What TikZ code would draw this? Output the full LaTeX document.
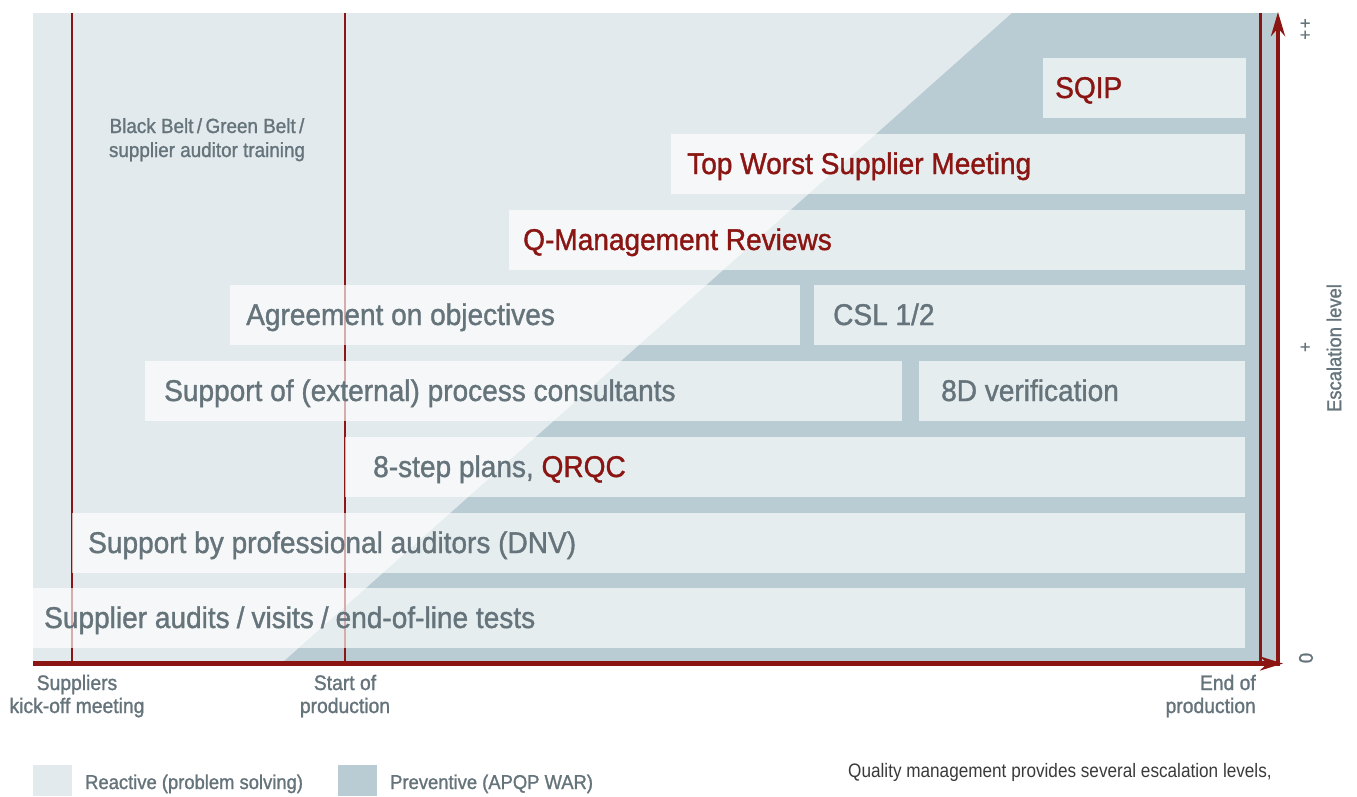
\documentclass[tikz,border=0pt]{standalone}
\usepackage{fontspec}
\setmainfont{Liberation Sans}[FakeStretch=0.92, FakeBold=1.2]
\newfontfamily\widefont{Liberation Sans}[FakeStretch=0.935, FakeBold=1.2]
\newfontfamily\plainfont{Liberation Sans}[FakeStretch=0.88]
\usetikzlibrary{arrows.meta}
\definecolor{qred}{HTML}{8A1512}
\definecolor{qgray}{HTML}{65737B}
\definecolor{reactive}{HTML}{E3EAED}
\definecolor{preventive}{HTML}{B9CCD3}
\definecolor{bodytext}{HTML}{3A3A3A}
\newcommand{\slsh}{\hspace{7pt}/\hspace{7pt}}
\begin{document}
\begin{tikzpicture}[x=1pt,y=-1pt,
  box/.style={fill=white, fill opacity=0.65, draw=none, inner sep=0pt, outer sep=0pt, anchor=north west, minimum height=60pt},
  lbl/.style={anchor=base west, inner sep=0pt, text=qgray, font=\widefont\fontsize{30}{36}\selectfont},
  hot/.style={lbl, text=qred},
  axislbl/.style={text=qgray, font=\fontsize{21}{23.5}\selectfont, inner sep=0pt},
  smalllbl/.style={text=qgray, font=\fontsize{20}{24}\selectfont, inner sep=0pt},
  milestone/.style={draw=qred, line width=2.2pt},
  legendbox/.style={draw=none, inner sep=0pt, anchor=north west, minimum width=39pt, minimum height=31pt},
]
\useasboundingbox (0,0) rectangle (1357,796);
% backgrounds
\fill[reactive] (33,13) rectangle (1278,662);
\fill[preventive] (283,662) -- (1012,13) -- (1278,13) -- (1278,662) -- cycle;
% milestone lines
\coordinate (k0) at (72,13);  \coordinate (k1) at (72,662);
\coordinate (s0) at (345,13); \coordinate (s1) at (345,662);
\coordinate (e0) at (1260.5,13); \coordinate (e1) at (1260.5,662);
\draw[milestone] (k0) -- (k1);
\draw[milestone] (s0) -- (s1);
\draw[milestone] (e0) -- (e1);
% boxes
\node[box, minimum width=1212pt] (b1) at (33,588) {};
\node[box, minimum width=1173pt] (b2) at (72,513) {};
\node[box, minimum width=900pt] (b3) at (345,437) {};
\node[box, minimum width=757pt] (b4) at (145,361) {};
\node[box, minimum width=326pt] (b5) at (919,361) {};
\node[box, minimum width=570pt] (b6) at (230,285) {};
\node[box, minimum width=431pt] (b7) at (814,285) {};
\node[box, minimum width=736pt] (b8) at (509,210) {};
\node[box, minimum width=574pt] (b9) at (671,134) {};
\node[box, minimum width=203pt] (b10) at (1043,58) {};
% box labels
\node[lbl] (t1) at (44,628) {Supplier audits\slsh visits\slsh end-of-line tests};
\node[lbl] (t2) at (88,553) {Support by professional auditors (DNV)};
\node[lbl] (t3) at (373,477) {8-step plans, \textcolor{qred}{QRQC}};
\node[lbl] (t4) at (164,401) {Support of (external) process consultants};
\node[lbl] (t5) at (941,401) {8D verification};
\node[lbl] (t6) at (246,325) {Agreement on objectives};
\node[lbl] (t7) at (833,325) {CSL 1/2};
\node[hot] (t8) at (523,250) {Q-Management Reviews};
\node[hot] (t9) at (687,174) {Top Worst Supplier Meeting};
\node[hot] (t10) at (1055,98) {SQIP};
% training label
\node[smalllbl, font=\fontsize{20.5}{24}\selectfont, anchor=base] (bb1) at (207,133) {Black Belt\thinspace/\thinspace Green Belt\thinspace/};
\node[smalllbl, font=\fontsize{20.5}{24}\selectfont, anchor=base] (bb2) at (207,157) {supplier auditor training};
% axes
\coordinate (origin) at (33,663.5);
\coordinate (xend) at (1283,663.5);
\coordinate (ybot) at (1278,666);
\coordinate (ytop) at (1278,12);
\draw[qred, line width=4pt, -{Stealth[length=24pt,width=14pt]}] (ybot) -- (ytop);
\draw[qred, line width=5pt, -{Stealth[length=23pt,width=14pt]}] (origin) -- (xend);
% x-axis labels
\node[axislbl, anchor=base] (m1a) at (77,690) {Suppliers};
\node[axislbl, anchor=base] (m1b) at (77,713) {kick-off meeting};
\node[axislbl, anchor=base] (m2a) at (345,690) {Start of};
\node[axislbl, anchor=base] (m2b) at (345,713) {production};
\node[axislbl, anchor=base east] (m3a) at (1256,690) {End of};
\node[axislbl, anchor=base east] (m3b) at (1256,713) {production};
% y-axis labels
\node[smalllbl, font=\fontsize{18}{20}\selectfont, rotate=90] (y2) at (1306,29) {+\kern2pt+};
\node[smalllbl, font=\fontsize{18}{20}\selectfont, rotate=90] (y1) at (1306,347) {+};
\node[smalllbl, rotate=90] (y0) at (1306,658) {0};
\node[smalllbl, rotate=90] (ylab) at (1334,348) {Escalation level};
% legend
\node[legendbox, fill=reactive] (lg1) at (33,765) {};
\node[smalllbl, anchor=base west] (lg1t) at (85,789) {Reactive (problem solving)};
\node[legendbox, fill=preventive] (lg2) at (338,765) {};
\node[smalllbl, anchor=base west] (lg2t) at (390,789) {Preventive (APQP WAR)};
% body text
\node[smalllbl, text=bodytext, font=\plainfont\fontsize{19.5}{24}\selectfont, anchor=base west] (body) at (848,777) {Quality management provides several escalation levels,};
\end{tikzpicture}
\end{document}
